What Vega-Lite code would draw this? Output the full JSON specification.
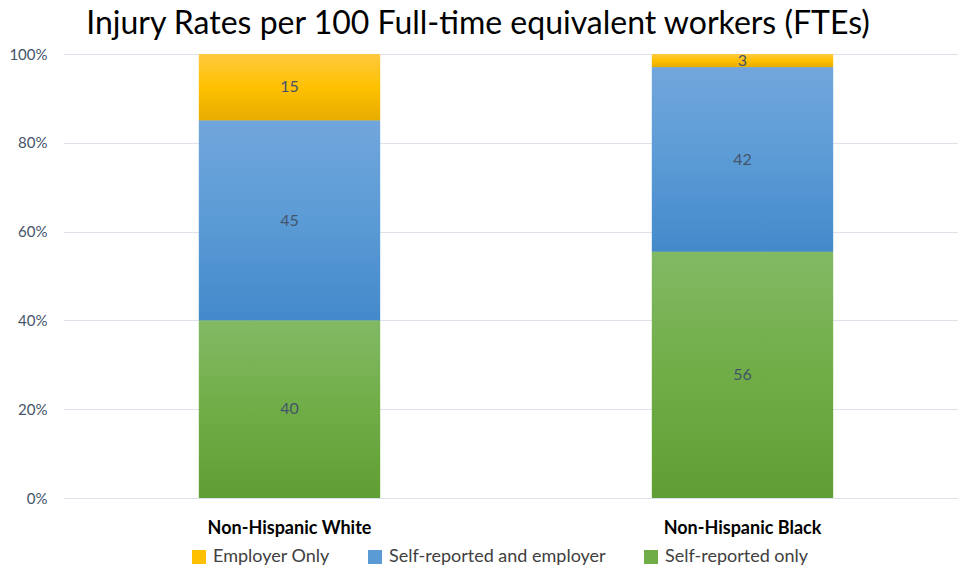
{
  "$schema": "https://vega.github.io/schema/vega-lite/v6.json",
  "width": 906,
  "height": 444,
  "padding": {"left": 0, "top": 8, "right": 0, "bottom": 0},
  "autosize": {"type": "pad"},
  "title": {
    "text": "Injury Rates per 100 Full-time equivalent workers (FTEs)",
    "font": "Lato",
    "fontSize": 32,
    "fontWeight": "normal",
    "color": "#000000",
    "anchor": "middle",
    "dx": -38,
    "offset": 6
  },
  "data": {
    "values": [
      {"group": "Non-Hispanic White", "series": "Self-reported only", "value": 40},
      {"group": "Non-Hispanic White", "series": "Self-reported and employer", "value": 45},
      {"group": "Non-Hispanic White", "series": "Employer Only", "value": 15},
      {"group": "Non-Hispanic Black", "series": "Self-reported only", "value": 56},
      {"group": "Non-Hispanic Black", "series": "Self-reported and employer", "value": 42},
      {"group": "Non-Hispanic Black", "series": "Employer Only", "value": 3}
    ]
  },
  "transform": [
    {"stack": "value", "groupby": ["group"], "sort": [{"field": "series", "order": "descending"}], "offset": "normalize", "as": ["y0", "y1"]},
    {"calculate": "(datum.y0 + datum.y1) / 2", "as": "ymid"}
  ],
  "encoding": {
    "x": {
      "field": "group",
      "type": "nominal",
      "sort": ["Non-Hispanic White", "Non-Hispanic Black"],
      "scale": {"paddingInner": 0.6, "paddingOuter": 0.3},
      "axis": {
        "title": null,
        "labelAngle": 0,
        "labelFont": "Lato",
        "labelFontSize": 18,
        "labelFontWeight": "bold",
        "labelColor": "#000000",
        "labelPadding": 21,
        "ticks": false,
        "domain": false
      }
    }
  },
  "layer": [
    {
      "mark": {"type": "bar"},
      "encoding": {
        "y": {
          "field": "y0",
          "type": "quantitative",
          "scale": {"domain": [0, 1]},
          "axis": {
            "title": null,
            "values": [0, 0.2, 0.4, 0.6, 0.8, 1],
            "format": ".0%",
            "grid": true,
            "gridColor": "#dde2ea",
            "gridWidth": 1,
            "domain": false,
            "ticks": false,
            "labelPadding": 16,
            "labelFont": "Lato",
            "labelFontSize": 15,
            "labelColor": "#44546A",
            "minExtent": 63,
            "maxExtent": 63
          }
        },
        "y2": {"field": "y1"},
        "color": {
          "field": "series",
          "type": "nominal",
          "scale": {
            "domain": ["Employer Only", "Self-reported and employer", "Self-reported only"],
            "range": ["#ffc000", "#5b9bd5", "#70ad47"]
          },
          "legend": {
            "title": null,
            "orient": "none",
            "legendX": 127,
            "legendY": 494,
            "direction": "horizontal",
            "symbolType": "square",
            "symbolSize": 196,
            "symbolStrokeWidth": 0,
            "labelFont": "Lato",
            "labelFontSize": 18,
            "labelColor": "#404040",
            "labelOffset": 5,
            "labelLimit": 0,
            "columnPadding": 36,
            "padding": 0
          }
        }
      }
    },
    {
      "transform": [{"filter": "datum.series === 'Employer Only'"}],
      "mark": {
        "type": "bar",
        "color": {
          "gradient": "linear", "x1": 0, "y1": 0, "x2": 0, "y2": 1,
          "stops": [
            {"offset": 0, "color": "#ffca40"},
            {"offset": 0.5, "color": "#ffc000"},
            {"offset": 1, "color": "#e6ac00"}
          ]
        }
      },
      "encoding": {
        "y": {"field": "y0", "type": "quantitative"},
        "y2": {"field": "y1"}
      }
    },
    {
      "transform": [{"filter": "datum.series === 'Self-reported and employer'"}],
      "mark": {
        "type": "bar",
        "color": {
          "gradient": "linear", "x1": 0, "y1": 0, "x2": 0, "y2": 1,
          "stops": [
            {"offset": 0, "color": "#71a6dc"},
            {"offset": 0.5, "color": "#5b9bd5"},
            {"offset": 1, "color": "#4489cb"}
          ]
        }
      },
      "encoding": {
        "y": {"field": "y0", "type": "quantitative"},
        "y2": {"field": "y1"}
      }
    },
    {
      "transform": [{"filter": "datum.series === 'Self-reported only'"}],
      "mark": {
        "type": "bar",
        "color": {
          "gradient": "linear", "x1": 0, "y1": 0, "x2": 0, "y2": 1,
          "stops": [
            {"offset": 0, "color": "#82b964"},
            {"offset": 0.5, "color": "#70ad47"},
            {"offset": 1, "color": "#5f9e34"}
          ]
        }
      },
      "encoding": {
        "y": {"field": "y0", "type": "quantitative"},
        "y2": {"field": "y1"}
      }
    },
    {
      "mark": {"type": "text", "font": "Lato", "fontSize": 16, "color": "#44546A", "baseline": "middle", "align": "center"},
      "encoding": {
        "y": {"field": "ymid", "type": "quantitative"},
        "text": {"field": "value", "type": "quantitative"}
      }
    }
  ],
  "config": {
    "view": {"stroke": null},
    "background": "#ffffff"
  }
}
